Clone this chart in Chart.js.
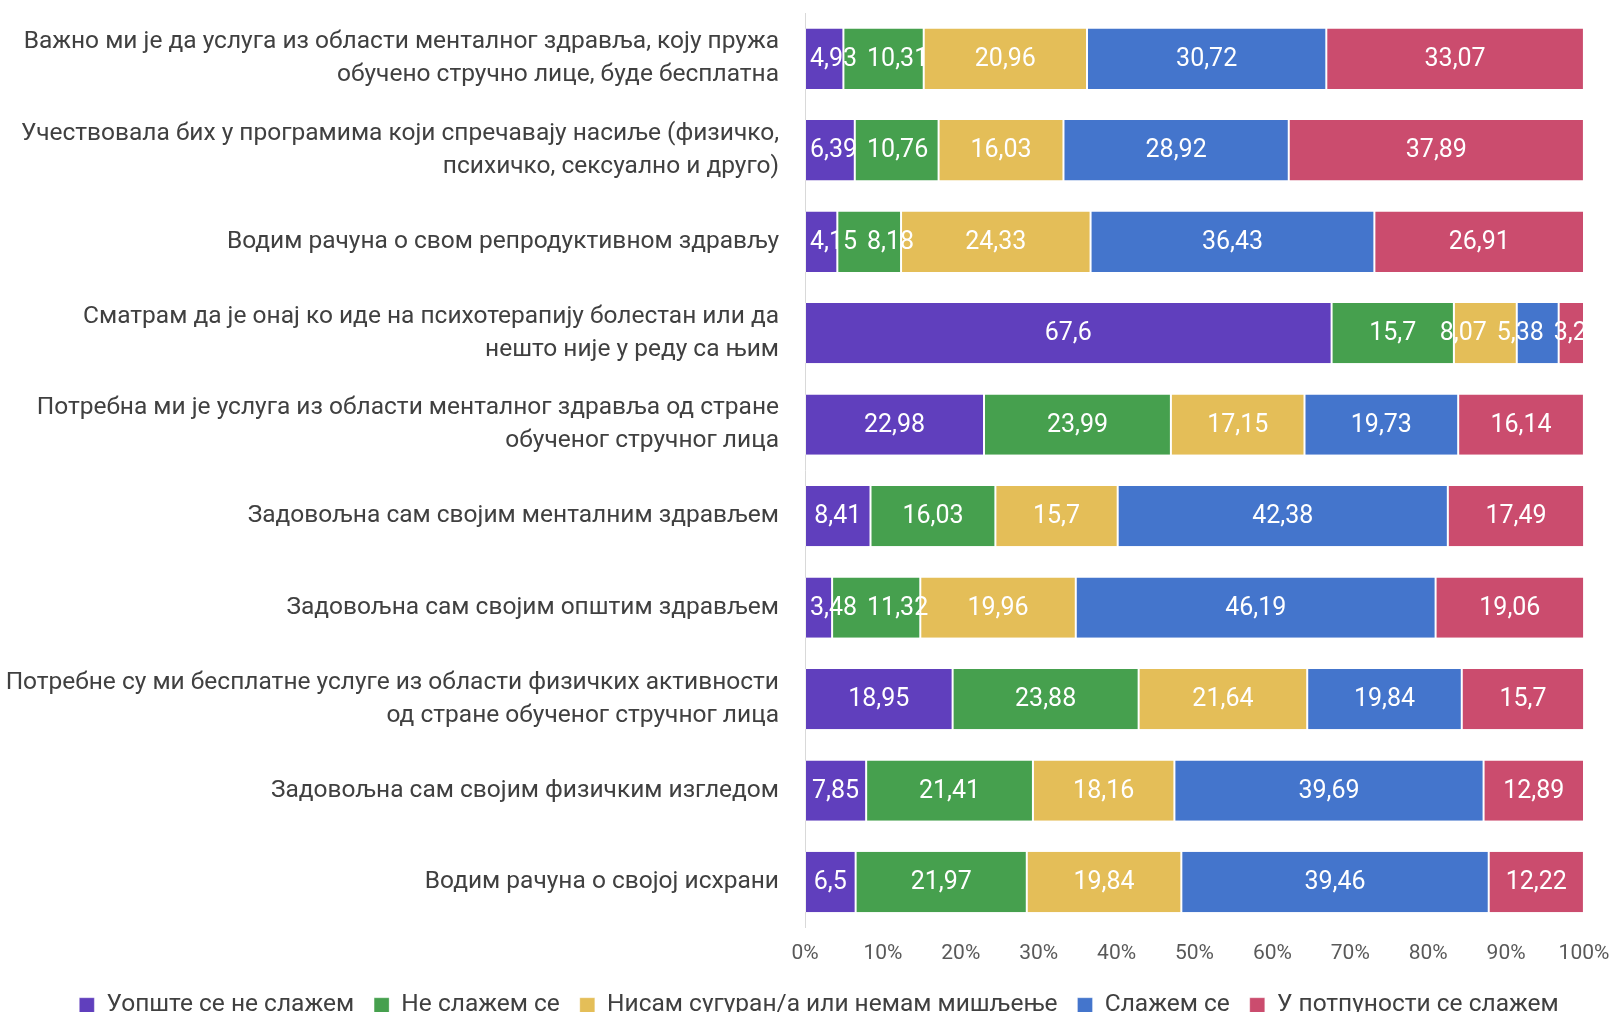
<!DOCTYPE html>
<html>
<head>
<meta charset="utf-8">
<script src="https://cdn.jsdelivr.net/npm/chart.js@4"></script>
<style>
  html, body { margin: 0; padding: 0; background: #fff; }
  #wrap { width: 1614px; height: 1018px; }
</style>
</head>
<body>
<div id="wrap"><canvas id="likertChart"></canvas></div>
<script>
// statements, top to bottom (pre-wrapped the way the original breaks them)
const statements = [
  ['Важно ми је да услуга из области менталног здравља, коју пружа', 'обучено стручно лице, буде бесплатна'],
  ['Учествовала бих у програмима који спречавају насиље (физичко,', 'психичко, сексуално и друго)'],
  'Водим рачуна о свом репродуктивном здрављу',
  ['Сматрам да је онај ко иде на психотерапију болестан или да', 'нешто није у реду са њим'],
  ['Потребна ми је услуга из области менталног здравља од стране', 'обученог стручног лица'],
  'Задовољна сам својим менталним здрављем',
  'Задовољна сам својим општим здрављем',
  ['Потребне су ми бесплатне услуге из области физичких активности', 'од стране обученог стручног лица'],
  'Задовољна сам својим физичким изгледом',
  'Водим рачуна о својој исхрани'
];

const answerLabels = [
  'Уопште се не слажем',
  'Не слажем се',
  'Нисам сугуран/а или немам мишљење',
  'Слажем се',
  'У потпуности се слажем'
];

// percentages per answer, same order as statements
const stronglyDisagree = [4.93, 6.39, 4.15, 67.6, 22.98, 8.41, 3.48, 18.95, 7.85, 6.5];
const disagree         = [10.31, 10.76, 8.18, 15.7, 23.99, 16.03, 11.32, 23.88, 21.41, 21.97];
const notSure          = [20.96, 16.03, 24.33, 8.07, 17.15, 15.7, 19.96, 21.64, 18.16, 19.84];
const agree            = [30.72, 28.92, 36.43, 5.38, 19.73, 42.38, 46.19, 19.84, 39.69, 39.46];
const stronglyAgree    = [33.07, 37.89, 26.91, 3.25, 16.14, 17.49, 19.06, 15.7, 12.89, 12.22];

const colors = ['#603fbd', '#46a04e', '#e4be58', '#4475cc', '#cb4c6e'];

const series = [stronglyDisagree, disagree, notSure, agree, stronglyAgree];

// value labels in the middle of each segment; like Excel, nudge them apart
// when narrow segments would make them collide
const segmentLabels = {
  id: 'segmentLabels',
  afterDatasetsDraw(chart) {
    const { ctx, chartArea } = chart;
    const gap = 7;
    ctx.save();
    ctx.beginPath();
    ctx.rect(chartArea.left, chartArea.top, chartArea.right - chartArea.left, chartArea.bottom - chartArea.top);
    ctx.clip();
    ctx.font = '25px Roboto';
    ctx.fillStyle = '#ffffff';
    ctx.textAlign = 'left';
    ctx.textBaseline = 'middle';
    const metas = chart.data.datasets.map((ds, i) => chart.getDatasetMeta(i));
    chart.data.labels.forEach((_, j) => {
      const items = chart.data.datasets.map((ds, i) => {
        const bar = metas[i].data[j];
        const txt = String(ds.data[j]).replace('.', ',');
        const w = ctx.measureText(txt).width;
        return { txt, w, y: bar.y, left: (bar.x + bar.base) / 2 - w / 2 };
      });
      // right to left: keep the last one centred, push earlier ones left
      for (let k = items.length - 2; k >= 0; k--) {
        const maxLeft = items[k + 1].left - gap - items[k].w;
        if (items[k].left > maxLeft) items[k].left = maxLeft;
      }
      // left to right: keep inside the axis, push later ones right
      let minLeft = chartArea.left + 5;
      items.forEach(it => {
        if (it.left < minLeft) it.left = minLeft;
        minLeft = it.left + it.w + gap + 3;
      });
      items.forEach(it => ctx.fillText(it.txt, it.left, it.y + 1));
    });
    ctx.restore();
  }
};

// legend sits a bit right of centre and close to the bottom in the original
const legendPlacement = {
  id: 'legendPlacement',
  beforeLayout(chart) {
    const lg = chart.legend;
    if (lg && !lg._patched) {
      const fit = lg.fit.bind(lg);
      lg.fit = function () { fit(); this.height = 39; };
      lg._patched = true;
    }
  },
  afterLayout(chart) {
    const lg = chart.legend;
    if (!lg) return;
    lg.left += 27; lg.right += 27;
    lg.top -= 6; lg.bottom -= 6;
  }
};

const ctx = document.getElementById('likertChart').getContext('2d');
new Chart(ctx, {
  type: 'bar',
  data: {
    labels: statements,
    datasets: series.map((vals, i) => ({
      label: answerLabels[i],
      data: vals,
      backgroundColor: colors[i],
      borderColor: 'rgba(255,255,255,0.6)',
      borderWidth: { left: 1, right: 1, top: 0, bottom: 0 },
      borderSkipped: false,
      categoryPercentage: 1,
      barPercentage: 0.66
    }))
  },
  options: {
    indexAxis: 'y',
    responsive: true,
    maintainAspectRatio: false,
    animation: false,
    layout: { padding: { top: 13, right: 30, left: 0, bottom: 0 } },
    scales: {
      x: {
        stacked: true,
        min: 0,
        max: 100,
        grid: { display: false, drawTicks: false },
        border: { display: false },
        afterFit(scale) {
          scale.paddingLeft = 0;
          scale.paddingRight = 0;
        },
        ticks: {
          stepSize: 10,
          padding: 13,
          color: '#595959',
          font: { family: 'Roboto', size: 21 },
          callback: v => v + '%'
        }
      },
      y: {
        stacked: true,
        grid: { display: false, drawTicks: false },
        border: { display: true, color: '#d9d9d9', width: 1 },
        afterFit(scale) {
          scale.width = 805;
          scale.paddingTop = 0;
          scale.paddingBottom = 0;
        },
        ticks: {
          padding: 26,
          color: '#404040',
          font: { family: 'Roboto', size: 24.5, lineHeight: 1.35 }
        }
      }
    },
    plugins: {
      legend: {
        position: 'bottom',
        labels: {
          color: '#404040',
          font: { family: 'Roboto', size: 24.5 },
          boxWidth: 15,
          boxHeight: 15,
          padding: 20
        }
      },
      tooltip: { enabled: false }
    }
  },
  plugins: [segmentLabels, legendPlacement]
});
</script>
</body>
</html>
